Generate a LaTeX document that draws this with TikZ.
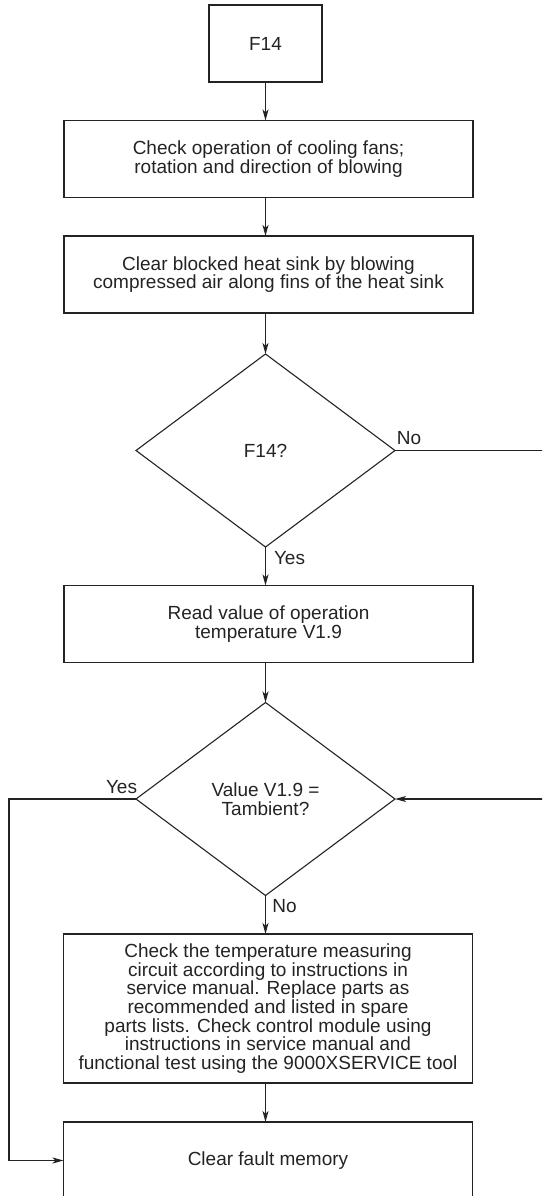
\documentclass[tikz,border=0pt]{standalone}
\usepackage{fontspec}
\setmainfont{Liberation Sans}
\usetikzlibrary{arrows.meta,shapes.geometric}
\definecolor{ink}{RGB}{35,35,35}

\begin{document}
\begin{tikzpicture}[x=1pt,y=-1pt,
  every node/.style={text=ink,font=\fontsize{19}{18.6}\selectfont},
  procbox/.style={draw=ink,line width=1.1pt,minimum width=409pt,
    minimum height=77pt,align=center,inner sep=0pt,outer sep=0pt},
  decide/.style={diamond,draw=ink,line width=1.1pt,minimum width=259pt,
    minimum height=193pt,align=center,inner sep=0pt,outer sep=0pt},
  flow/.style={draw=ink,line width=1.1pt,
    -{Stealth[length=11pt,width=6pt,inset=3pt]}}]

\useasboundingbox (0,0) rectangle (542,1196);
\clip (0,0) rectangle (542,1196);

% steps
\node[procbox,minimum width=113pt] (f14) at (265.5,43.5) {F14};
\node[procbox] (fans) at (268.5,159)
  {Check operation of cooling fans;\\rotation and direction of blowing};
\node[procbox] (sink) at (268.5,274.5)
  {Clear blocked heat sink by blowing\\compressed air along fins of the heat sink};
\node[decide] (q1) at (265.5,450.5) {F14?};
\node[procbox] (readv) at (268.5,624)
  {Read value of operation\\temperature V1.9};
\node[decide] (q2) at (265.5,799) {Value V1.9 =\\Tambient?};
\node[procbox,minimum height=149pt] (circ) at (268,1008.5)
  {Check the temperature measuring\\
   circuit according to instructions in\\
   service manual. Replace parts as\\
   recommended and listed in spare\\
   parts lists. Check control module using\\
   instructions in service manual and\\
   functional test using the 9000XSERVICE tool};
\node[procbox] (clr) at (268,1160.5) {Clear fault memory};

% main line
\draw[flow] (f14) -- (f14 |- fans.north);
\draw[flow] (fans.south -| f14) -- (sink.north -| f14);
\draw[flow] (sink.south -| q1) -- (q1.north);
\draw[flow] (q1.south) -- (readv.north -| q1);
\draw[flow] (readv.south -| q1) -- (q2.north);
\draw[flow] (q2.south) -- (circ.north -| q2);
\draw[flow] (circ.south -| q2) -- (clr.north -| q2);

% branches
\coordinate (rgt) at (548,0);
\coordinate (lft) at (9,0);
\draw[flow] (q1.east) -- (q1.east -| rgt) -- (q2.east -| rgt) -- (q2.east);
\draw[flow] (q2.west) -- (q2.west -| lft) -- (clr.west -| lft) -- (clr.west);

% answers
\node (no1) at (409,438) {No};
\node (yes1) at (289.5,558) {Yes};
\node (yes2) at (121.5,787) {Yes};
\node (no2) at (284.5,906.5) {No};

\end{tikzpicture}
\end{document}
